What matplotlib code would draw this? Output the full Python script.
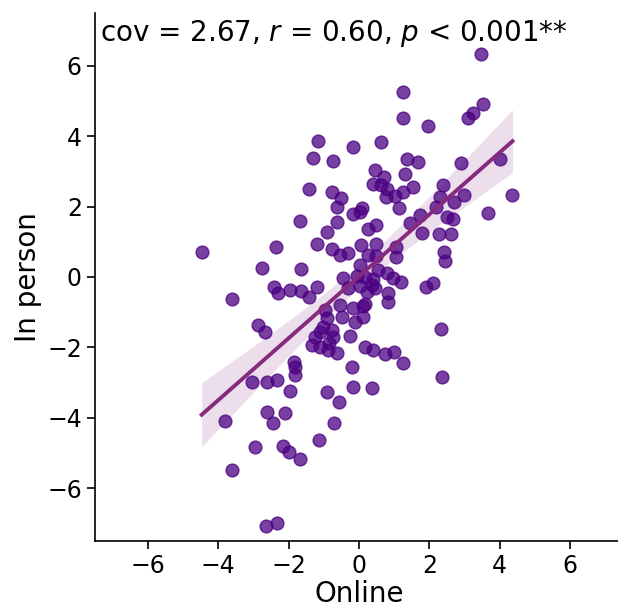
import numpy as np
import matplotlib
matplotlib.use("Agg")
import matplotlib.pyplot as plt

# ---------------------------------------------------------------------------
# Data
# ---------------------------------------------------------------------------
ONLINE = [
    -1.16, -0.17, -1.30, -0.73, -1.42, -0.77, -0.50, -0.63, 0.08,
    3.48, 1.24, 3.51, 3.25, 3.09, 1.24, 1.97, 0.62, 1.35, 1.69, 4.00, 2.90,
    0.45, 0.71, 1.31, 0.41, 0.62, 0.79, 1.52, 1.24, 1.02, 0.77, 2.40, 2.30,
    2.71, 2.98, 4.36, 1.15, 2.20,
    3.67, 1.45, 1.73, 2.49, 2.66, 1.78, 2.28, 2.61, 2.41, 2.44, 0.26, 0.48,
    0.05, 0.48, 1.05, 1.05, 0.26, 0.48, 0.03, 0.55, 0.79, 0.97, 1.18, 0.41,
    0.45, 0.36, 1.90, 2.11, 0.83, 0.83, 0.17, 2.33, 0.17, 0.39, 0.74, 1.00,
    1.26, 2.35,
    -4.47, -1.68, -2.36, -2.75, -1.66, -3.62, -2.41, -2.31, -1.96, -1.65,
    -1.41, -1.20, -2.86, -2.67, -1.20, -0.92, -0.63, -0.16, 0.03, -0.78,
    -0.54, -0.30, -0.45, -0.07, 0.17, -0.30, 0.03, 0.23, -0.54, -0.16, 0.12,
    -0.49, -0.11, 0.12, -0.97, -0.92, -1.01, -0.78, -1.11, -1.25, -0.73,
    -0.84, -1.34, -1.11, -0.63, -0.87, -0.26, -0.21, -1.86, -1.82, -1.82,
    -3.05, -2.60, -2.34,
    -3.81, -1.96, -2.60, -2.45, -2.10, -2.95, -2.15, -1.98, -1.68, -3.62,
    -2.64, -2.34, -1.13, -0.71, -0.92, -0.56, -0.16, 0.38,
]
IN_PERSON = [
    3.87, 3.70, 3.39, 3.30, 2.49, 2.41, 2.24, 2.00, 1.95,
    6.33, 5.26, 4.91, 4.67, 4.52, 4.52, 4.29, 3.83, 3.35, 3.27, 3.36, 3.23,
    3.04, 2.83, 2.93, 2.64, 2.61, 2.49, 2.55, 2.41, 2.30, 2.28, 2.61, 2.28,
    2.14, 2.33, 2.33, 1.95, 2.00,
    1.83, 1.54, 1.76, 1.71, 1.64, 1.24, 1.22, 1.21, 0.72, 0.46, 1.36, 1.48,
    0.92, 0.94, 0.86, 0.58, 0.62, 0.60, 0.34, 0.20, 0.10, -0.04, -0.13, -0.07,
    -0.32, -0.23, -0.27, -0.16, -0.45, -0.70, -0.77, -1.49, -1.98, -2.07,
    -2.19, -2.14, -2.43, -2.85,
    0.70, 1.59, 0.86, 0.25, 0.22, -0.63, -0.29, -0.46, -0.37, -0.39,
    -0.56, -0.29, -1.36, -1.55, 0.94, 1.29, 1.57, 1.79, 1.86, 0.79,
    0.62, 0.67, -0.04, 0.03, 0.01, -0.32, -0.26, -0.43, -0.80, -0.89, -0.82,
    -1.13, -1.27, -1.13, -0.94, -1.17, -1.41, -1.51, -1.55, -1.70, -1.70,
    -1.88, -1.93, -1.98, -2.15, -2.07, -1.68, -2.55, -2.41, -2.55, -2.78,
    -2.98, -2.98, -2.92,
    -4.09, -3.23, -3.84, -4.16, -3.85, -4.84, -4.80, -4.96, -5.18, -5.48,
    -7.07, -6.98, -4.63, -4.16, -3.26, -3.56, -3.12, -3.14,
]
ANNOTATION = "cov = 2.67, $r$ = 0.60, $p$ < 0.001**"
TICKS = [-6, -4, -2, 0, 2, 4, 6]

POINT_COLOR = "#4B0082"
LINE_COLOR = "#862A7E"


def fit_line(x, y, n_grid=100):
    """OLS fit with analytic 95% confidence band."""
    x = np.asarray(x, float)
    y = np.asarray(y, float)
    n = len(x)
    slope, intercept = np.polyfit(x, y, 1)
    resid = y - (slope * x + intercept)
    s = np.sqrt(np.sum(resid ** 2) / (n - 2))
    sxx = np.sum((x - x.mean()) ** 2)
    grid = np.linspace(x.min(), x.max(), n_grid)
    yhat = slope * grid + intercept
    se = s * np.sqrt(1 / n + (grid - x.mean()) ** 2 / sxx)
    t = 1.976
    return grid, yhat, yhat - t * se, yhat + t * se


def main():
    fig = plt.figure(figsize=(6.18, 6.08), dpi=100)
    ax = fig.add_axes([95 / 618, 67 / 608, 528 / 618, 528 / 608])

    grid, yhat, lo, hi = fit_line(ONLINE, IN_PERSON)

    ax.scatter(ONLINE, IN_PERSON, s=85, color=POINT_COLOR, alpha=0.75,
               linewidths=1.0, zorder=2)
    ax.fill_between(grid, lo, hi, color=LINE_COLOR, alpha=0.15,
                    linewidth=0, zorder=1)
    ax.plot(grid, yhat, color=LINE_COLOR, lw=2.8, zorder=3)

    ax.set_xlim(-7.5, 7.5)
    ax.set_ylim(-7.5, 7.5)
    ax.set_xticks(TICKS)
    ax.set_yticks(TICKS)
    ax.tick_params(labelsize=17, length=6, width=1.2)
    ax.spines["top"].set_visible(False)
    ax.spines["right"].set_visible(False)
    ax.spines["left"].set_linewidth(1.2)
    ax.spines["bottom"].set_linewidth(1.2)

    ax.set_xlabel("Online", fontsize=20, labelpad=1)
    ax.set_ylabel("In person", fontsize=20, labelpad=4)

    ax.text(0.01, 0.99, ANNOTATION, transform=ax.transAxes,
            ha="left", va="top", fontsize=20)

    fig.savefig("out.png", dpi=100)
    plt.close(fig)


if __name__ == "__main__":
    main()
